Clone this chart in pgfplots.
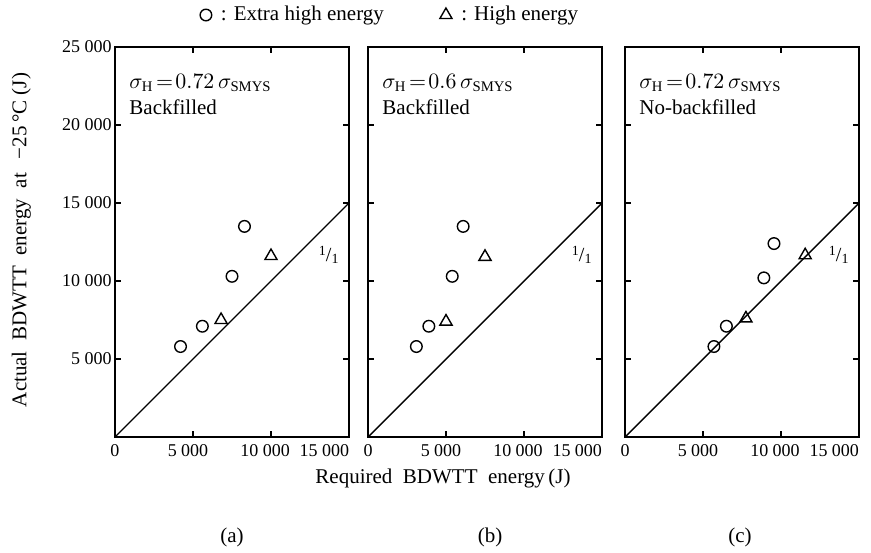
\documentclass[border=0pt]{standalone}
\usepackage{fontspec}
\setmainfont{Liberation Serif}
\usepackage{pgfplots}
\pgfplotsset{compat=1.18}

\newcommand{\unityratio}{\raisebox{3pt}{\scriptsize 1}/\raisebox{-1pt}{\scriptsize 1}}

\pgfplotsset{
  panel/.style={
    scale only axis, width=117pt, height=195pt,
    xmin=0, xmax=15000, ymin=0, ymax=25000,
    scaled ticks=false,
    xtick={0,5000,10000,15000},
    xticklabels={0,\hspace{-5pt}5~000,\hspace{-6pt}10~000,\makebox[0pt][r]{15~000}},
    ytick={5000,10000,15000,20000,25000},
    tick align=inside, major tick length=3pt,
    axis line style={line width=0.8pt},
    tick style={line width=0.6pt, black},
    tick label style={font=\fontsize{9}{10}\selectfont},
    yticklabel style={inner sep=1.5pt},
  },
  eh/.style={only marks, mark=o, mark size=2.9pt, black, line width=0.7pt},
  he/.style={only marks, mark=triangle, mark size=3.5pt, black, line width=0.7pt},
  unity/.style={black, line width=0.7pt, no marks},
}

\begin{document}
\begin{tikzpicture}
\path[use as bounding box] (-57.5pt,-57.5pt) rectangle (378pt,218.5pt);

% (a)
\begin{axis}[panel, at={(0pt,0pt)},
  yticklabels={5~000,10~000,15~000,20~000,25~000},
  ylabel={Actual \ BDWTT \ energy \ at \ \,−25\,°C (J)},
  ylabel style={at={(axis description cs:-0.40,0.505)}, anchor=center, font=\fontsize{10.5}{12}\selectfont},
  legend columns=2,
  legend style={draw=none, fill=none, at={(axis description cs:1.18,1.082)}, anchor=center,
    font=\fontsize{10.5}{12}\selectfont, /tikz/every even column/.append style={column sep=26pt}},
]
\addplot[eh] coordinates {(4200,5800) (5600,7100) (7500,10300) (8300,13500)};
\addlegendentry{\ : Extra high energy}
\addplot[he] coordinates {(6800,7500) (10000,11600)};
\addlegendentry{\ : High energy}
\addplot[unity, forget plot] coordinates {(0,0) (15000,15000)};
\node[anchor=north west, align=left, inner sep=0pt, font=\fontsize{10.5}{12}\selectfont]
  at (axis cs:900,23300) {$\sigma_{\mathrm{H}}\!=\!0.72\,\sigma_{\mathrm{SMYS}}$\\[1pt]Backfilled};
\node[font=\fontsize{10}{12}\selectfont, inner sep=0pt] at (axis cs:13700,11700) {\unityratio};
\end{axis}

% (b)
\begin{axis}[panel, at={(126.5pt,0pt)}, yticklabels={}]
\addplot[eh] coordinates {(3100,5800) (3900,7100) (5400,10300) (6100,13500)};
\addplot[he] coordinates {(5000,7400) (7500,11550)};
\addplot[unity] coordinates {(0,0) (15000,15000)};
\node[anchor=north west, align=left, inner sep=0pt, font=\fontsize{10.5}{12}\selectfont]
  at (axis cs:900,23300) {$\sigma_{\mathrm{H}}\!=\!0.6\,\sigma_{\mathrm{SMYS}}$\\[1pt]Backfilled};
\node[font=\fontsize{10}{12}\selectfont, inner sep=0pt] at (axis cs:13700,11700) {\unityratio};
\end{axis}

% (c)
\begin{axis}[panel, at={(255pt,0pt)}, yticklabels={}]
\addplot[eh] coordinates {(5700,5800) (6500,7100) (8900,10200) (9550,12400)};
\addplot[he] coordinates {(7750,7600) (11550,11650)};
\addplot[unity] coordinates {(0,0) (15000,15000)};
\node[anchor=north west, align=left, inner sep=0pt, font=\fontsize{10.5}{12}\selectfont]
  at (axis cs:900,23300) {$\sigma_{\mathrm{H}}\!=\!0.72\,\sigma_{\mathrm{SMYS}}$\\[1pt]No-backfilled};
\node[font=\fontsize{10}{12}\selectfont, inner sep=0pt] at (axis cs:13700,11700) {\unityratio};
\end{axis}

\node[font=\fontsize{10.5}{12}\selectfont] at (164pt,-20.5pt) {Required \ BDWTT \ energy\,(J)};
\node[font=\fontsize{10.5}{12}\selectfont] at (58.5pt,-50pt) {(a)};
\node[font=\fontsize{10.5}{12}\selectfont] at (187.5pt,-50pt) {(b)};
\node[font=\fontsize{10.5}{12}\selectfont] at (312.5pt,-50pt) {(c)};
\end{tikzpicture}
\end{document}
